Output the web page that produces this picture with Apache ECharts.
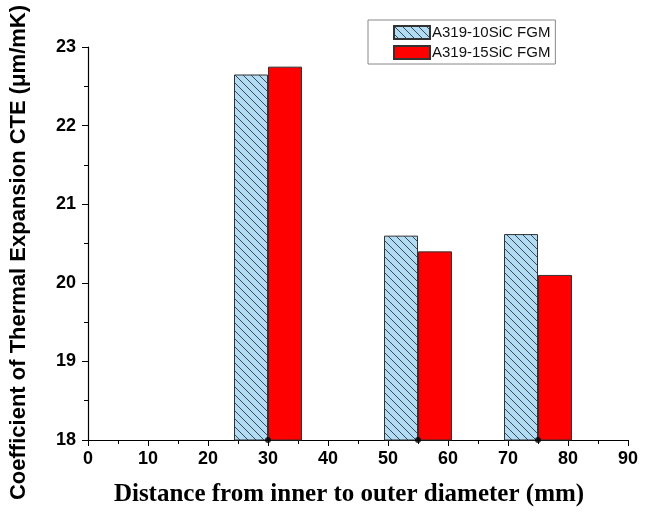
<!DOCTYPE html>
<html><head><meta charset="utf-8">
<script src="https://cdn.jsdelivr.net/npm/echarts@6/dist/echarts.min.js"></script>
<style>html,body{margin:0;padding:0;background:#fff}#c{width:647px;height:512px}</style>
</head><body><div id="c"></div>
<script>
var positions = [30, 55, 75];
var series10 = [22.65, 20.60, 20.62];
var series15 = [22.75, 20.40, 20.10];
var seriesNames = ['A319-10SiC FGM', 'A319-15SiC FGM'];

function hatch() {
  var s = 8, c = document.createElement('canvas');
  c.width = s; c.height = s;
  var g = c.getContext('2d');
  g.fillStyle = '#b2dcf4'; g.fillRect(0, 0, s, s);
  g.strokeStyle = '#2a3a44'; g.lineWidth = 0.9;
  g.beginPath();
  g.moveTo(-1, -1); g.lineTo(s + 1, s + 1);
  g.moveTo(-1, s - 1); g.lineTo(1, s + 1);
  g.moveTo(s - 1, -1); g.lineTo(s + 1, 1);
  g.stroke();
  return c;
}

var chart = echarts.init(document.getElementById('c'), null, {renderer: 'canvas'});
var pair = function (xs, ys) { return xs.map(function (x, i) { return [x, ys[i]]; }); };
chart.setOption({
  animation: false,
  backgroundColor: '#fff',
  grid: {left: 88, right: 19, top: 47, bottom: 71},
  legend: {
    data: seriesNames,
    orient: 'vertical',
    icon: 'rect',
    left: 368, top: 20,
    itemWidth: 36, itemHeight: 13, itemGap: 5,
    padding: [5, 5, 4, 25],
    borderColor: '#888', borderWidth: 1,
    textStyle: {fontFamily: 'Liberation Sans, Arial', fontSize: 15, color: '#111', padding: [0, 0, 0, -3]}
  },
  xAxis: {
    type: 'value', min: 0, max: 90, interval: 10,
    name: 'Distance from inner to outer diameter (mm)',
    nameLocation: 'middle', nameGap: 42,
    nameTextStyle: {fontFamily: 'Liberation Serif, Times New Roman', fontWeight: 'bold', fontSize: 25, color: '#000', padding: [0, 18, 0, 0]},
    axisLine: {show: true, onZero: false, lineStyle: {color: '#000', width: 1.2}},
    axisTick: {show: true, inside: false, length: 6, lineStyle: {color: '#000'}},
    minorTick: {show: true, splitNumber: 2, length: 4, lineStyle: {color: '#000'}},
    axisLabel: {fontFamily: 'Liberation Sans, Arial', fontWeight: 'bold', fontSize: 18, color: '#000', margin: 10},
    splitLine: {show: false}
  },
  yAxis: {
    type: 'value', min: 18, max: 23, interval: 1,
    name: 'Coefficient of Thermal Expansion CTE (\u03bcm/mK)',
    nameLocation: 'middle', nameGap: 58,
    nameTextStyle: {fontFamily: 'Liberation Sans, Arial', fontWeight: 'bold', fontSize: 22, color: '#000', padding: [0, 18, 0, 0]},
    axisLine: {show: true, lineStyle: {color: '#000', width: 1.2}},
    axisTick: {show: true, inside: false, length: 6, lineStyle: {color: '#000'}},
    minorTick: {show: true, splitNumber: 2, length: 4, lineStyle: {color: '#000'}},
    axisLabel: {fontFamily: 'Liberation Sans, Arial', fontWeight: 'bold', fontSize: 18, color: '#000', margin: 12},
    splitLine: {show: false}
  },
  series: [
    {
      name: seriesNames[0], type: 'bar', data: pair(positions, series10),
      barWidth: 34, barGap: '0%',
      itemStyle: {color: {image: hatch(), repeat: 'repeat'}, borderColor: '#333', borderWidth: 1}
    },
    {
      name: seriesNames[1], type: 'bar', data: pair(positions, series15),
      barWidth: 34, barGap: '0%',
      itemStyle: {color: '#ff0000', borderColor: '#333', borderWidth: 1}
    },
    {
      type: 'scatter', data: positions.map(function (x) { return [x, 18]; }),
      symbolSize: 6, itemStyle: {color: '#000'}, z: 5, silent: true
    }
  ]
});
</script></body></html>
